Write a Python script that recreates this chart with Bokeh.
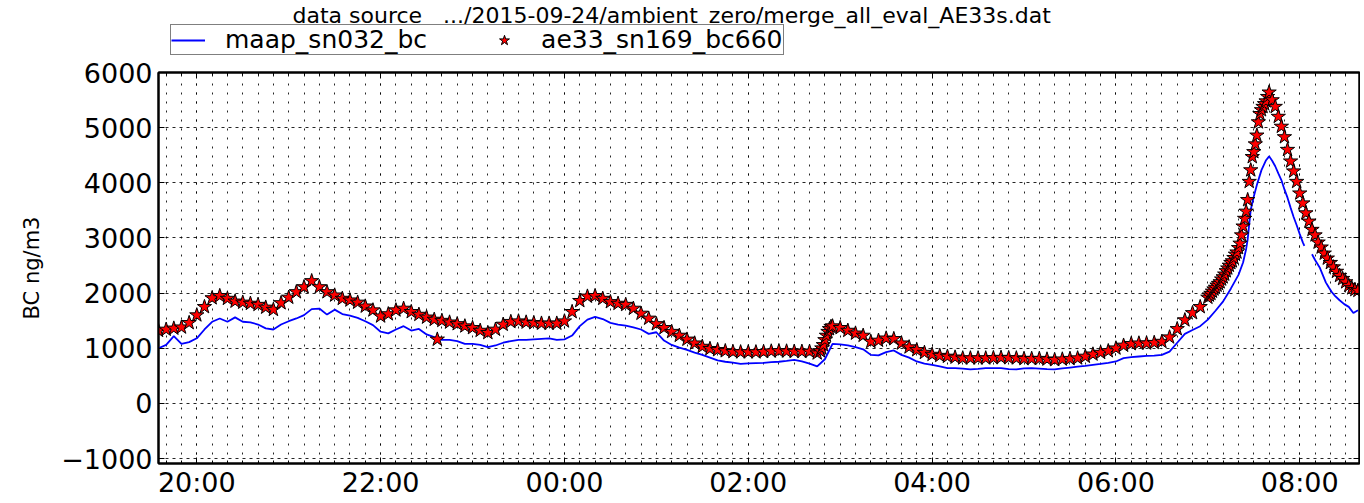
import numpy as np
import pandas as pd
from bokeh.plotting import figure
from bokeh.layouts import column
from bokeh.models import (Range1d, FixedTicker, DatetimeTickFormatter, DatetimeAxis,
                          LinearAxis, Legend, LegendItem, ColumnDataSource,
                          CustomJSTickFormatter, Label)
from bokeh.embed import file_html
from bokeh.resources import INLINE

# ---------------- data ----------------
title_text = "data source \u00a0 .../2015-09-24/ambient_zero/merge_all_eval_AE33s.dat"
y_label = "BC ng/m3"
maap_label = "maap_sn032_bc"
ae33_label = "ae33_sn169_bc660"

t_origin = "2015-09-23 20:00"          # minutes below are counted from 20:00
x_start_min, x_end_min = -25, 759
grid_start_min, grid_step_min = -25, 5  # regular 5-minute samples

# MAAP BC (ng/m3), 19:35 ... 07:15 every 5 minutes
maap_grid = [
    1000, 1060, 1220, 1080, 1110, 1180, 1340, 1480, 1540, 1480, 1560, 1480,
    1470, 1430, 1360, 1340, 1430, 1490, 1540, 1600, 1710, 1720, 1610, 1700,
    1620, 1590, 1550, 1490, 1420, 1300, 1270, 1340, 1400, 1320, 1350, 1250,
    1200, 1150, 1150, 1130, 1080, 1080, 1060, 1020, 1050, 1100, 1130, 1150,
    1150, 1160, 1170, 1180, 1150, 1160, 1230, 1400, 1520, 1570, 1530, 1460,
    1430, 1410, 1380, 1340, 1260, 1290, 1140, 1060, 1010, 970, 920, 880,
    830, 780, 755, 740, 715, 725, 730, 735, 750, 755, 770, 790,
    760, 720, 670, 800, 1080, 1070, 1050, 1020, 980, 880, 870, 930,
    960, 880, 830, 760, 720, 700, 670, 640, 640, 630, 615, 625,
    640, 640, 640, 620, 615, 635, 640, 630, 620, 615, 635, 650,
    665, 680, 700, 715, 735, 760, 820, 840, 850, 860, 865, 880,
    940, 1100, 1260, 1330, 1400, 1520, 1680, 1850, 2080,
]
# MAAP around the morning peak (minutes after 20:00), gap near 08:05
maap_tail_min = [680, 683, 685, 686, 687, 688, 690, 692, 695, 698, 700, 702, 704,
                 706, 708, 710, 712, 714, 716, 718, 720, 722, 723, 725, 728, 730,
                 733, 735, 737, 739, 741, 743, 746, 749, 752, 755, 758]
maap_tail = [2330, 2555, 2800, 2975, 3250, 3510, 3750, 3960, 4230, 4410, 4480, 4400, 4300,
             4170, 4050, 3880, 3730, 3550, 3380, 3230, 3070, 2920, 2855, np.nan, 2705, 2600,
             2465, 2330, 2195, 2100, 2015, 1950, 1870, 1800, 1750, 1640, 1690]

# AE33 BC660 (ng/m3), 19:35 ... 07:00 every 5 minutes
ae33_grid = [
    1320, 1340, 1360, 1380, 1460, 1600, 1750, 1910, 1950, 1900, 1850, 1830,
    1810, 1790, 1740, 1700, 1820, 1920, 2020, 2110, 2220, 2110, 2020, 1960,
    1900, 1870, 1830, 1760, 1690, 1580, 1620, 1690, 1720, 1660, 1610, 1560,
    1520, 1500, 1470, 1440, 1400, 1370, 1320, 1280, 1340, 1430, 1480, 1490,
    1470, 1460, 1450, 1450, 1450, 1490, 1660, 1860, 1940, 1950, 1900, 1840,
    1810, 1790, 1720, 1630, 1540, 1440, 1370, 1300, 1230, 1160, 1090, 1030,
    990, 970, 950, 935, 930, 930, 930, 935, 945, 950, 945, 940,
    940, 940, 910, 1150, 1400, 1370, 1320, 1270, 1230, 1120, 1140, 1180,
    1170, 1090, 1020, 970, 920, 885, 865, 850, 835, 820, 820, 820,
    820, 825, 830, 825, 820, 810, 810, 810, 800, 790, 800, 810,
    820, 850, 890, 920, 950, 1000, 1050, 1080, 1090, 1090, 1100, 1120,
    1200, 1350, 1510, 1640, 1750, 1920,
]
# extra AE33 readings: outlier at 22:37 and the fast rise near 02:47
ae33_extra_min = [157, 407, 408, 409, 411, 412, 413, 414]
ae33_extra = [1160, 950, 1000, 1060, 1230, 1300, 1350, 1390]
# AE33 around the morning peak
ae33_tail_min = list(range(661, 701)) + list(range(702, 759, 2))
ae33_tail = [
    1960, 1990, 2030, 2070, 2100, 2140, 2170, 2200, 2250, 2290,
    2340, 2400, 2450, 2500, 2550, 2580, 2640, 2700, 2740, 2820,
    2900, 3050, 3210, 3350, 3480, 3690, 4020, 4230, 4470, 4560,
    4700, 4860, 5100, 5250, 5320, 5380, 5430, 5480, 5560, 5640,
    5500, 5380, 5200, 5020, 4830, 4600, 4390, 4210, 4020, 3810,
    3630, 3450, 3300, 3150, 3050, 2920, 2830, 2720, 2630, 2550,
    2470, 2390, 2315, 2260, 2200, 2135, 2090, 2060, 2045,
]

y_ticks = [-1000, 0, 1000, 2000, 3000, 4000, 5000, 6000]
y_min, y_max = -1090, 6000
x_major_every_min = 120
x_minor_every_min = 10

# ---------------- build ----------------
origin = pd.Timestamp(t_origin)
origin_ms = origin.value / 1e6


def to_ms(minutes):
    return origin_ms + np.asarray(minutes, dtype=float) * 60000.0


def series(grid, extra_min, extra_val):
    gmin = grid_start_min + grid_step_min * np.arange(len(grid))
    m = np.concatenate([gmin, np.asarray(extra_min, dtype=float)])
    v = np.concatenate([np.asarray(grid, dtype=float), np.asarray(extra_val, dtype=float)])
    order = np.argsort(m, kind="stable")
    return to_ms(m[order]), v[order]


mx, mv = series(maap_grid, maap_tail_min, maap_tail)
ax_, av = series(ae33_grid, ae33_extra_min + ae33_tail_min, ae33_extra + ae33_tail)

maap_src = ColumnDataSource(dict(x=mx, y=mv))
ae33_src = ColumnDataSource(dict(x=ax_, y=av))

FONT = "DejaVu Sans"
W = 1360
HEAD_H = 56
MAIN_H = 444

maap_style = dict(line_color="#0000ff", line_width=1.8)
ae33_style = dict(marker="star", size=15, fill_color="#ff0000", line_color="black",
                  line_width=1.0)

# ---------------- main plot ----------------
p = figure(width=W, height=MAIN_H, x_axis_type="datetime", title=None,
           x_range=Range1d(to_ms(x_start_min).item(), to_ms(x_end_min).item()),
           y_range=Range1d(y_min, y_max),
           output_backend="svg", toolbar_location=None,
           min_border_left=158, min_border_right=1,
           min_border_top=16, min_border_bottom=35)
p.background_fill_color = "white"
p.border_fill_color = "white"
p.outline_line_color = "black"
p.outline_line_width = 2

x_major = to_ms(np.arange(0, x_end_min + 1, x_major_every_min)).tolist()
x_minor = to_ms(np.arange(-20, x_end_min + 1, x_minor_every_min)).tolist()
x_ticker = FixedTicker(ticks=x_major, minor_ticks=x_minor)
y_ticker = FixedTicker(ticks=y_ticks, minor_ticks=[])
fmt = DatetimeTickFormatter(hours="%H:%M", hourmin="%H:%M", days="%H:%M",
                            minutes="%H:%M", minsec="%H:%M")
blank = CustomJSTickFormatter(code="return ''")


def style_axis(axis, labels=True):
    axis.axis_line_color = "black"
    axis.axis_line_width = 2
    axis.major_tick_in = 6
    axis.major_tick_out = 0
    axis.minor_tick_in = 3
    axis.minor_tick_out = 0
    axis.major_tick_line_color = "black"
    axis.minor_tick_line_color = "black"
    axis.major_tick_line_width = 1
    axis.minor_tick_line_width = 1
    axis.major_label_text_font = FONT
    axis.major_label_text_color = "black"
    if labels:
        axis.major_label_text_font_size = "27px"
    else:
        axis.major_label_text_font_size = "1px"
        axis.major_label_standoff = 0


xb = p.xaxis[0]
xb.ticker = x_ticker
xb.formatter = fmt
style_axis(xb)
xb.major_label_standoff = 3

yl = p.yaxis[0]
yl.ticker = y_ticker
style_axis(yl)
yl.major_label_standoff = 6
yl.major_label_overrides = {-1000: "\u22121000"}
yl.axis_label = y_label
yl.axis_label_text_font = FONT
yl.axis_label_text_font_size = "21px"
yl.axis_label_text_font_style = "normal"
yl.axis_label_text_color = "black"
yl.axis_label_standoff = 14

xt = DatetimeAxis(ticker=x_ticker, formatter=blank)
style_axis(xt, labels=False)
p.add_layout(xt, "above")
yr = LinearAxis(ticker=y_ticker, formatter=blank)
style_axis(yr, labels=False)
p.add_layout(yr, "right")

p.xgrid.ticker = x_ticker
p.xgrid.grid_line_color = "black"
p.xgrid.grid_line_dash = "2 7"
p.xgrid.grid_line_width = 1
p.xgrid.grid_line_alpha = 0.85
p.xgrid.minor_grid_line_color = "black"
p.xgrid.minor_grid_line_dash = "2 7"
p.xgrid.minor_grid_line_width = 1
p.xgrid.minor_grid_line_alpha = 0.85
p.ygrid.ticker = y_ticker
p.ygrid.grid_line_color = "black"
p.ygrid.grid_line_dash = "3 4"
p.ygrid.grid_line_width = 1
p.ygrid.grid_line_alpha = 0.85

p.line("x", "y", source=maap_src, **maap_style)
p.scatter("x", "y", source=ae33_src, **ae33_style)

# ---------------- header: title + legend above the frame ----------------
head = figure(width=W, height=HEAD_H, output_backend="svg", toolbar_location=None,
              title=None, x_range=Range1d(0, 1), y_range=Range1d(0, 1),
              x_axis_location=None, y_axis_location=None,
              min_border_left=0, min_border_right=0, min_border_top=0, min_border_bottom=0)
head.grid.visible = False
head.outline_line_color = None
head.background_fill_color = "white"
head.border_fill_color = "white"
# same series, drawn off-range here: only their legend glyphs show
h_maap = head.line("x", "y", source=maap_src, **maap_style)
h_ae33 = head.scatter("x", "y", source=ae33_src, **ae33_style)

legend = Legend(items=[LegendItem(label=maap_label, renderers=[h_maap]),
                       LegendItem(label=ae33_label, renderers=[h_ae33])],
                orientation="horizontal", location=(12, 1), margin=0, padding=0,
                glyph_width=34, glyph_height=26, label_standoff=20, spacing=60,
                label_height=20,
                label_text_font=FONT, label_text_font_size="25px", label_text_color="black",
                border_line_color="black", border_line_width=1.5,
                background_fill_color="white", background_fill_alpha=1.0)
head.add_layout(legend, "center")

title = Label(x=134, y=HEAD_H - 15, x_units="screen", y_units="screen", text=title_text,
              text_font=FONT, text_font_size="22px", text_color="black",
              text_baseline="middle", text_align="left")
head.add_layout(title, "center")

layout = column(head, p, spacing=0)
open("out.html", "w").write(file_html(layout, INLINE))
